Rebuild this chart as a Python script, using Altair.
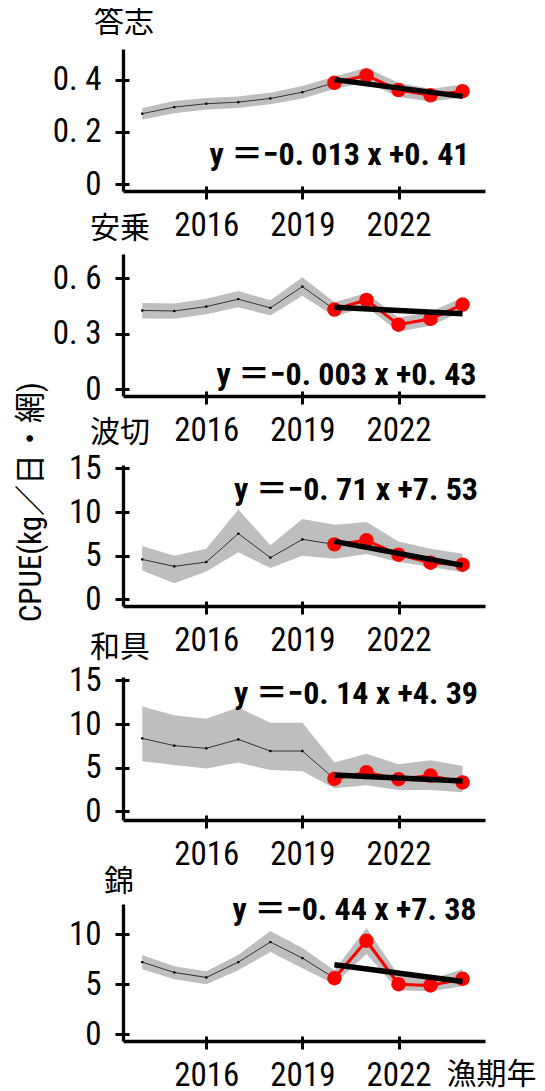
import altair as alt
import pandas as pd

# ---------------- data ----------------
years = [2014, 2015, 2016, 2017, 2018, 2019, 2020, 2021, 2022, 2023, 2024]
areas = ["答志", "安乗", "波切", "和具", "錦"]

cpue_toshi = [0.270, 0.295, 0.308, 0.314, 0.328, 0.352, 0.388, 0.416, 0.360, 0.340, 0.356]
hi_toshi = [0.292, 0.318, 0.330, 0.336, 0.350, 0.376, 0.412, 0.445, 0.388, 0.365, 0.380]
lo_toshi = [0.248, 0.272, 0.286, 0.292, 0.306, 0.328, 0.364, 0.390, 0.334, 0.316, 0.332]

cpue_anori = [0.425, 0.422, 0.446, 0.486, 0.439, 0.554, 0.430, 0.482, 0.348, 0.380, 0.457]
hi_anori = [0.466, 0.463, 0.488, 0.530, 0.480, 0.605, 0.470, 0.520, 0.385, 0.418, 0.495]
lo_anori = [0.382, 0.380, 0.404, 0.442, 0.398, 0.505, 0.392, 0.444, 0.310, 0.342, 0.420]

cpue_nakiri = [4.58, 3.78, 4.28, 7.53, 4.78, 6.87, 6.30, 6.76, 5.12, 4.20, 3.97]
hi_nakiri = [6.10, 5.00, 5.80, 10.30, 6.20, 9.20, 8.55, 8.86, 6.64, 5.80, 5.23]
lo_nakiri = [3.30, 1.85, 3.20, 5.40, 3.60, 5.00, 4.66, 5.20, 4.28, 3.70, 3.13]

cpue_wagu = [8.36, 7.53, 7.22, 8.24, 6.91, 6.91, 3.72, 4.48, 3.68, 4.10, 3.31]
hi_wagu = [12.0, 11.0, 10.6, 11.9, 10.15, 10.15, 5.60, 6.60, 5.40, 5.86, 5.20]
lo_wagu = [5.75, 5.30, 4.90, 5.60, 4.73, 4.60, 2.65, 3.00, 2.45, 2.45, 2.20]

cpue_nishiki = [7.20, 6.17, 5.67, 7.20, 9.20, 7.60, 5.60, 9.33, 5.00, 4.87, 5.53]
hi_nishiki = [7.90, 6.80, 6.30, 7.90, 10.30, 8.60, 6.40, 10.60, 5.90, 5.50, 6.50]
lo_nishiki = [6.50, 5.50, 5.00, 6.40, 8.20, 6.60, 5.00, 8.00, 4.40, 4.30, 4.80]

fit_years = [2020, 2024]
fit_toshi = [0.400, 0.336]
fit_anori = [0.443, 0.407]
fit_nakiri = [6.64, 3.90]
fit_wagu = [4.17, 3.49]
fit_nishiki = [6.93, 5.27]

equations = [
    "y ＝−0. 013 x +0. 41",
    "y ＝−0. 003 x +0. 43",
    "y ＝−0. 71 x +7. 53",
    "y ＝−0. 14 x +4. 39",
    "y ＝−0. 44 x +7. 38",
]

y_ticks = [[0, 0.2, 0.4], [0, 0.3, 0.6], [0, 5, 10, 15], [0, 5, 10, 15], [0, 5, 10]]
x_ticks = [2016, 2019, 2022]
y_title = "CPUE(kg／日・網)"
x_title = "漁期年"

series = [
    (cpue_toshi, lo_toshi, hi_toshi, fit_toshi),
    (cpue_anori, lo_anori, hi_anori, fit_anori),
    (cpue_nakiri, lo_nakiri, hi_nakiri, fit_nakiri),
    (cpue_wagu, lo_wagu, hi_wagu, fit_wagu),
    (cpue_nishiki, lo_nishiki, hi_nishiki, fit_nishiki),
]

# ---------------- layout / style ----------------
W = 362
XDOM = [2013.4, 2024.7]
layout = [
    dict(h=142, extra=0, ydom=[-0.0255, 0.517], ty=-25.8, tx=1, ex=346.5, ey=105.7),
    dict(h=142, extra=0, ydom=[-0.037, 0.730], ty=-25.3, tx=-3, ex=353.5, ey=120.7),
    dict(h=147, extra=6, ydom=[-0.75, 15.38], ty=-25.8, tx=-3, ex=355, ey=30.7),
    dict(h=151, extra=8, ydom=[-0.99, 15.39], ty=-21.3, tx=-3, ex=355, ey=24.7),
    dict(h=158, extra=21, ydom=[-0.67, 13.0], ty=-1.3, tx=-4, ex=353.5, ey=26.7),
]

NARROW = "Roboto Condensed, Noto Sans CJK JP, sans-serif"
CJK = "Noto Sans CJK JP"
GRAY = "#BEBEBE"
RED = "#FF0000"


def panel(i):
    vals, lo, hi, fitv = series[i]
    L = layout[i]
    df = pd.DataFrame({"year": years, "cpue": vals, "lo": lo, "hi": hi})
    hist = df[df.year <= 2020]
    pts = df[df.year <= 2019]
    recent = df[df.year >= 2020]
    fit = pd.DataFrame({"year": fit_years, "fit": fitv})
    eq = pd.DataFrame({"eq": [equations[i]]})
    name = pd.DataFrame({"name": [areas[i]]})

    xs = alt.Scale(domain=XDOM, nice=False, zero=False)
    ys = alt.Scale(domain=L["ydom"], nice=False, zero=False, range=[L["h"], L["extra"]])

    if i < 2:
        ylab = "datum.value == 0 ? '0' : replace(format(datum.value, '.1f'), '.', '. ')"
    else:
        ylab = "format(datum.value, 'd')"

    yaxis_kw = dict(
        values=y_ticks[i], labelExpr=ylab, tickSize=8, tickWidth=3, tickColor="black",
        domainWidth=3.3, domainColor="black", labelFont=NARROW, labelFontSize=33,
        labelColor="black", labelPadding=14, grid=False, zindex=1, labelOverlap=False,
    )
    if i == 2:
        yaxis_kw.update(title=y_title, titleX=-92, titleY=42.7, titleAngle=270,
                        titleAlign="center", titleBaseline="middle", titleFont=NARROW,
                        titleFontSize=31, titleFontWeight="normal", titleColor="black")
    else:
        yaxis_kw.update(title=None)

    xaxis_kw = dict(
        values=x_ticks, format="d", tickSize=8, tickWidth=3, tickColor="black",
        domainWidth=3.3, domainColor="black", labelFont=NARROW, labelFontSize=33,
        labelColor="black", labelPadding=10, grid=False, zindex=1, labelOverlap=False,
    )
    if i == 4:
        xaxis_kw.update(title=x_title, titleX=368, titleY=33, titleAlign="center",
                        titleBaseline="middle", titleFont=CJK, titleFontSize=30,
                        titleFontWeight="normal", titleColor="black")
    else:
        xaxis_kw.update(title=None)

    inner_y = alt.Axis(values=y_ticks[i], orient="left", offset=-6, tickSize=6, tickWidth=3,
                       tickColor="black", domain=False, labels=False, grid=False, title=None,
                       zindex=1)
    inner_x = alt.Axis(values=x_ticks, orient="bottom", offset=-5, tickSize=5, tickWidth=3,
                       tickColor="black", domain=False, labels=False, grid=False, title=None,
                       zindex=1)

    band = alt.Chart(df).mark_area(color=GRAY, opacity=1).encode(
        x=alt.X("year:Q", scale=xs, axis=alt.Axis(**xaxis_kw)),
        y=alt.Y("lo:Q", scale=ys, axis=alt.Axis(**yaxis_kw)),
        y2="hi:Q",
    )
    hline = alt.Chart(hist).mark_line(color="#333333", strokeWidth=1).encode(
        x=alt.X("year:Q", scale=xs, axis=None),
        y=alt.Y("cpue:Q", scale=ys, axis=None),
    )
    hpts = alt.Chart(pts).mark_point(filled=True, shape="square", size=5, color="black", opacity=1).encode(
        x=alt.X("year:Q", scale=xs, axis=inner_x),
        y=alt.Y("cpue:Q", scale=ys, axis=inner_y),
    )
    rline = alt.Chart(recent).mark_line(color=RED, strokeWidth=3).encode(
        x=alt.X("year:Q", scale=xs, axis=None),
        y=alt.Y("cpue:Q", scale=ys, axis=None),
    )
    rpts = alt.Chart(recent).mark_circle(color=RED, size=210, opacity=1).encode(
        x=alt.X("year:Q", scale=xs, axis=None),
        y=alt.Y("cpue:Q", scale=ys, axis=None),
    )
    fline = alt.Chart(fit).mark_line(color="black", strokeWidth=5.5).encode(
        x=alt.X("year:Q", scale=xs, axis=None),
        y=alt.Y("fit:Q", scale=ys, axis=None),
    )
    txt = alt.Chart(eq).mark_text(
        align="right", baseline="middle", font=NARROW, fontSize=32, fontWeight="bold", color="black"
    ).encode(text="eq:N", x=alt.value(L["ex"]), y=alt.value(L["ey"]))
    ttl = alt.Chart(name).mark_text(
        align="center", baseline="middle", font=CJK, fontSize=30, color="black"
    ).encode(text="name:N", x=alt.value(L["tx"]), y=alt.value(L["ty"]))

    return alt.layer(band, hline, hpts, rline, rpts, fline, txt, ttl).resolve_scale(
        x="independent", y="independent"
    ).properties(width=W, height=L["h"])


chart = alt.vconcat(*[panel(i) for i in range(5)], spacing=63, bounds="flush").properties(
    padding={"left": 6, "top": 0, "right": 0, "bottom": 0}
).configure_view(stroke=None)

chart.save("out.html", embed_options={"renderer": "svg", "actions": False})
